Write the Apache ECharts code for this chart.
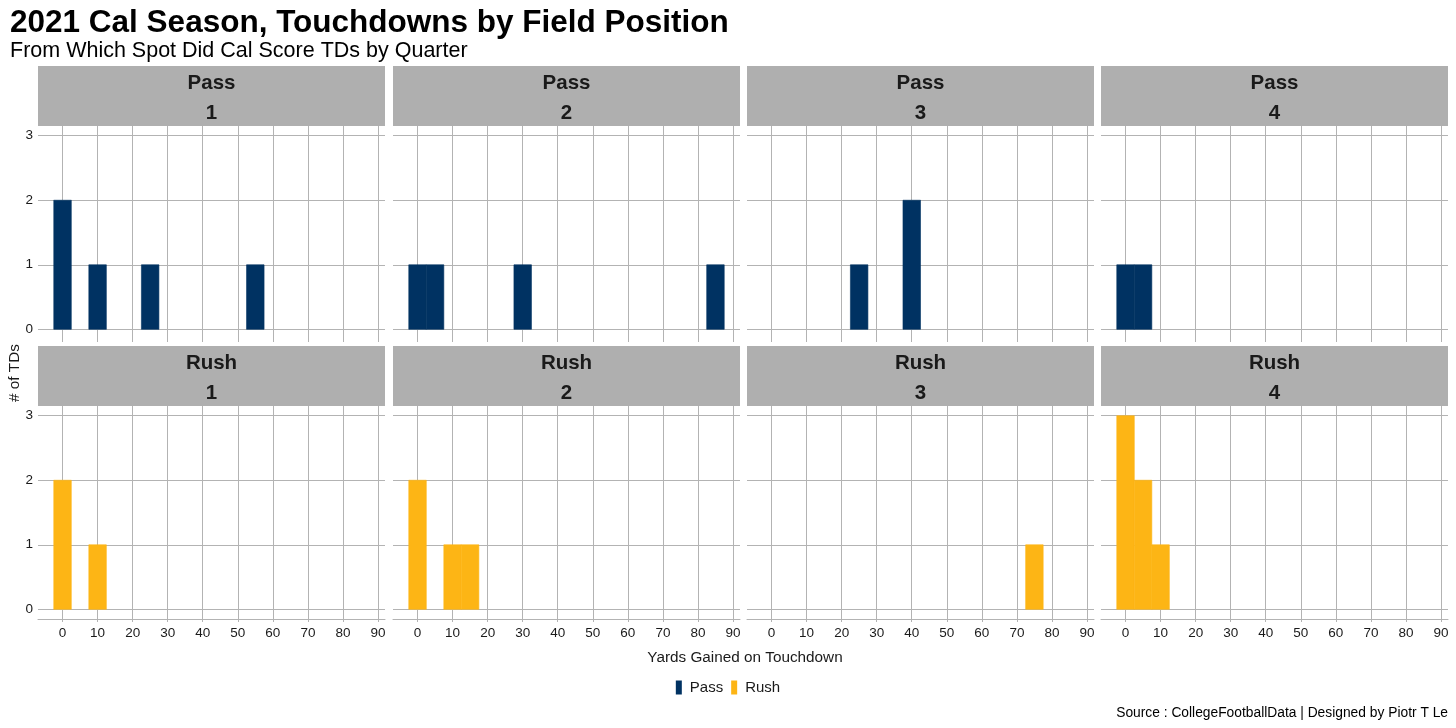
<!DOCTYPE html>
<html>
<head>
<meta charset="utf-8">
<script src="https://cdn.jsdelivr.net/npm/echarts@6/dist/echarts.min.js"></script>
<style>
html,body{margin:0;padding:0;background:#fff;}
#chart{width:1456px;height:728px;}
</style>
</head>
<body>
<div id="chart"></div>
<script>
// ---- Data ----
const quarters = ['1', '2', '3', '4'];
const playTypes = ['Pass', 'Rush'];
// histogram bin centres (yards, binwidth 5) and counts per quarter
const passBins   = [[0, 10, 25, 55], [0, 5, 30, 85], [25, 40], [0, 5]];
const passCounts = [[2, 1, 1, 1],    [1, 1, 1, 1],   [1, 2],   [1, 1]];
const rushBins   = [[0, 10], [0, 10, 15], [75], [0, 5, 10]];
const rushCounts = [[2, 1],  [2, 1, 1],   [1],  [3, 2, 1]];
const xTicks = [0, 10, 20, 30, 40, 50, 60, 70, 80, 90];
const yTicks = [0, 1, 2, 3];
const binWidth = 5;

// ---- Styling / layout ----
const colors = { Pass: '#003262', Rush: '#FDB515' };
const FONT = '"Liberation Sans", Arial, sans-serif';
const colLeft = [38, 393, 747, 1101];
const panelW = 347;
const rowTop = [126, 406];
const panelH = 213;
const stripH = 60;
const gridColor = '#b3b3b3';
const textColor = '#1a1a1a';

const chart = echarts.init(document.getElementById('chart'));

const grids = [], xAxes = [], yAxes = [], series = [], graphics = [];
let idx = 0;
playTypes.forEach((pt, r) => {
  const bins = pt === 'Pass' ? passBins : rushBins;
  const counts = pt === 'Pass' ? passCounts : rushCounts;
  quarters.forEach((q, c) => {
    grids.push({ left: colLeft[c], top: rowTop[r], width: panelW, height: panelH, containLabel: false });
    const isBottom = r === 1;
    xAxes.push({
      type: 'value', gridIndex: idx, min: -7, max: 92,
      axisLine: { show: isBottom, onZero: false, lineStyle: { color: gridColor, width: 1 } },
      axisTick: { show: true, length: 3, customValues: xTicks, lineStyle: { color: gridColor } },
      axisLabel: { show: isBottom, customValues: xTicks, color: textColor, fontFamily: FONT, fontSize: 13.5, margin: 7 },
      splitLine: { show: true, lineStyle: { color: gridColor, width: 1 } }
    });
    const isLeft = c === 0;
    yAxes.push({
      type: 'value', gridIndex: idx, min: -0.15, max: 3.15,
      axisLine: { show: isLeft, lineStyle: { color: gridColor, width: 1 } },
      axisTick: { show: true, length: 3, customValues: yTicks, lineStyle: { color: gridColor } },
      axisLabel: { show: isLeft, customValues: yTicks, color: textColor, fontFamily: FONT, fontSize: 13.5, margin: 5 },
      splitLine: { show: true, lineStyle: { color: gridColor, width: 1 } }
    });
    const data = bins[c].map((b, i) => [b, counts[c][i]]);
    series.push({
      type: 'custom', name: pt, xAxisIndex: idx, yAxisIndex: idx,
      itemStyle: { color: colors[pt] },
      data: data,
      encode: { x: 0, y: 1 },
      renderItem: function (params, api) {
        const x = api.value(0), y = api.value(1);
        const p0 = api.coord([x - binWidth / 2, y]);
        const p1 = api.coord([x + binWidth / 2, 0]);
        return {
          type: 'rect',
          shape: { x: p0[0], y: p0[1], width: p1[0] - p0[0], height: p1[1] - p0[1] },
          style: { fill: colors[pt], stroke: colors[pt], lineWidth: 0.6 }
        };
      }
    });
    // strip
    const sTop = rowTop[r] - stripH;
    graphics.push({ type: 'rect', shape: { x: colLeft[c], y: sTop, width: panelW, height: stripH }, style: { fill: '#afafaf' }, silent: true });
    graphics.push({ type: 'text', x: colLeft[c] + panelW / 2, y: sTop + 17, style: { text: pt, fill: textColor, font: 'bold 20.5px ' + FONT, textAlign: 'center', textVerticalAlign: 'middle' }, silent: true });
    graphics.push({ type: 'text', x: colLeft[c] + panelW / 2, y: sTop + 47, style: { text: q, fill: textColor, font: 'bold 20.5px ' + FONT, textAlign: 'center', textVerticalAlign: 'middle' }, silent: true });
    idx++;
  });
});

// titles and annotations
graphics.push({ type: 'text', x: 10, y: 23, style: { text: '2021 Cal Season, Touchdowns by Field Position', fill: '#000', font: 'bold 31.5px ' + FONT, textVerticalAlign: 'middle' } });
graphics.push({ type: 'text', x: 10, y: 51, style: { text: 'From Which Spot Did Cal Score TDs by Quarter', fill: '#000', font: '21.5px ' + FONT, textVerticalAlign: 'middle' } });
graphics.push({ type: 'text', x: 15, y: 373, rotation: Math.PI / 2, style: { text: '# of TDs', fill: textColor, font: '15.3px ' + FONT, textAlign: 'center', textVerticalAlign: 'middle' } });
graphics.push({ type: 'text', x: 745, y: 658, style: { text: 'Yards Gained on Touchdown', fill: textColor, font: '15.3px ' + FONT, textAlign: 'center', textVerticalAlign: 'middle' } });
graphics.push({ type: 'text', x: 1448, y: 713, style: { text: 'Source : CollegeFootballData | Designed by Piotr T Le', fill: '#000', font: '13.8px ' + FONT, textAlign: 'right', textVerticalAlign: 'middle' } });

chart.setOption({
  animation: false,
  backgroundColor: '#fff',
  grid: grids,
  xAxis: xAxes,
  yAxis: yAxes,
  series: series,
  legend: {
    data: playTypes, left: 'center', top: 675, selectedMode: false,
    icon: 'rect', itemWidth: 6, itemHeight: 14, itemGap: 8,
    textStyle: { color: textColor, fontFamily: FONT, fontSize: 15, padding: [0, 0, 0, 3] }
  },
  graphic: graphics
});
</script>
</body>
</html>
